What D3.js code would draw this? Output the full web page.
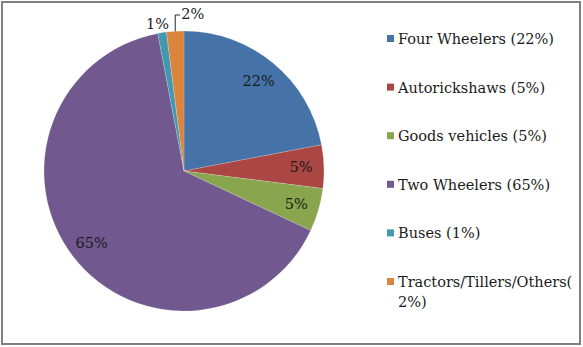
<!DOCTYPE html>
<html>
<head>
<meta charset="utf-8">
<script src="https://cdn.jsdelivr.net/npm/d3@7"></script>
<style>
  html, body { margin: 0; padding: 0; background: #fff; }
  svg { display: block; }
  text { font-family: "DejaVu Serif", "Liberation Serif", serif; }
</style>
</head>
<body>
<svg id="chart" width="583" height="347"></svg>
<script>
// Vehicle mix, share of total (%)
const categories = ["Four Wheelers", "Autorickshaws", "Goods vehicles", "Two Wheelers", "Buses", "Tractors/Tillers/Others"];
const values = [22, 5, 5, 65, 1, 2];
const legendLabels = [
  ["Four Wheelers (22%)"],
  ["Autorickshaws (5%)"],
  ["Goods vehicles (5%)"],
  ["Two Wheelers (65%)"],
  ["Buses (1%)"],
  ["Tractors/Tillers/Others(", "2%)"]
];
const colors = ["#4572A7", "#AA4643", "#89A54E", "#71588F", "#4198AF", "#DB843D"];

const svg = d3.select("#chart");

// outer frame
svg.append("rect")
  .attr("x", 2).attr("y", 2)
  .attr("width", 578).attr("height", 342)
  .attr("fill", "#fff")
  .attr("stroke", "#808080")
  .attr("stroke-width", 2);

const cx = 184, cy = 171, R = 140;
const color = d3.scaleOrdinal().domain(categories).range(colors);

const pie = d3.pie().sort(null).value(d => d.value);
const arcs = pie(categories.map((c, i) => ({ name: c, value: values[i] })));
const arc = d3.arc().innerRadius(0).outerRadius(R);

const g = svg.append("g").attr("transform", `translate(${cx},${cy})`);

g.selectAll("path.slice")
  .data(arcs)
  .join("path")
  .attr("class", "slice")
  .attr("d", arc)
  .attr("fill", d => color(d.data.name))
  .attr("stroke", "#fff")
  .attr("stroke-opacity", 0.3)
  .attr("stroke-width", 0.6);

const fmt = v => v + "%";
const FS = 14.5;
const labelArc = d3.arc().innerRadius(117).outerRadius(117);
const mid = d => (d.startAngle + d.endAngle) / 2;

// labels inside the larger slices
g.selectAll("text.inside")
  .data(arcs.filter(d => d.data.value >= 5))
  .join("text")
  .attr("class", "inside")
  .attr("x", d => labelArc.centroid(d)[0])
  .attr("y", d => labelArc.centroid(d)[1] + 5)
  .attr("text-anchor", "middle")
  .attr("font-size", FS)
  .attr("fill", "#1a1a1a")
  .text(d => fmt(d.data.value));

// small slices get outside labels
const small = arcs.filter(d => d.data.value < 5);
const onRim = (a, r) => [Math.sin(a) * r, -Math.cos(a) * r];

// Buses: label just beyond the rim
const busesArc = small[0];
const bp = onRim(mid(busesArc), R + 10);
g.append("text")
  .attr("x", bp[0] - 3)
  .attr("y", bp[1] + 6)
  .attr("text-anchor", "middle")
  .attr("font-size", FS)
  .attr("fill", "#1a1a1a")
  .text(fmt(busesArc.data.value));

// Tractors: label with elbow leader line
const tracArc = small[1];
const tp = onRim(mid(tracArc), R);
const elbowY = -R - 16;
g.append("path")
  .attr("d", `M${tp[0]},${tp[1]}V${elbowY}H${tp[0] + 5}`)
  .attr("fill", "none")
  .attr("stroke", "#262626")
  .attr("stroke-width", 1);
g.append("text")
  .attr("x", tp[0] + 6)
  .attr("y", elbowY + 4)
  .attr("font-size", FS)
  .attr("fill", "#1a1a1a")
  .text(fmt(tracArc.data.value));

// legend
const legend = svg.append("g").attr("transform", "translate(387,0)");
const rowY = d3.scaleLinear().domain([0, 1]).range([44, 92.6]);
const rows = legend.selectAll("g.row")
  .data(categories)
  .join("g")
  .attr("class", "row")
  .attr("transform", (d, i) => `translate(0,${rowY(i)})`);

rows.append("rect")
  .attr("x", 0).attr("y", -9)
  .attr("width", 7).attr("height", 7)
  .attr("fill", d => color(d));

rows.append("text")
  .attr("x", 11)
  .attr("y", 0)
  .attr("font-size", FS)
  .attr("fill", "#1a1a1a")
  .selectAll("tspan")
  .data((d, i) => legendLabels[i])
  .join("tspan")
  .attr("x", 11)
  .attr("dy", (d, j) => j === 0 ? 0 : 20)
  .text(d => d);
</script>
</body>
</html>
